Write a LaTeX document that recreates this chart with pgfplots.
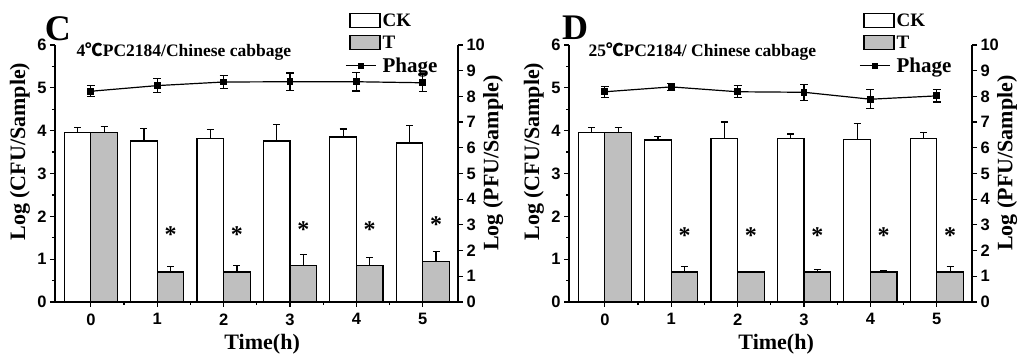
\documentclass[border=0pt]{standalone}
\usepackage{fontspec}
\setmainfont{Liberation Serif}
\newfontfamily\arialfont{Liberation Sans}
\newfontfamily\cjk{Noto Sans CJK SC}
\usepackage{pgfplots}
\pgfplotsset{compat=1.18}
\usepackage{pgfplotstable}

\pgfplotstableread{
x ck cke t te ph phe
0 3.95 0.13 3.95 0.14 8.20 0.21
1 3.76 0.29 0.70 0.13 8.42 0.28
2 3.81 0.21 0.70 0.15 8.56 0.26
3 3.76 0.39 0.86 0.24 8.57 0.34
4 3.85 0.19 0.86 0.17 8.57 0.36
5 3.71 0.41 0.94 0.24 8.53 0.34
}\dataC
\pgfplotstableread{
x ck cke t te ph phe
0 3.95 0.12 3.95 0.13 8.18 0.22
1 3.78 0.09 0.70 0.12 8.37 0.13
2 3.81 0.39 0.70 0.01 8.18 0.23
3 3.82 0.10 0.70 0.06 8.16 0.31
4 3.79 0.38 0.70 0.03 7.89 0.37
5 3.82 0.13 0.70 0.12 8.02 0.24
}\dataD
\pgfplotstableread{
x y
1.2 1.57
2.2 1.57
3.2 1.70
4.2 1.70
5.2 1.80
}\starC
\pgfplotstableread{
x y
1.2 1.56
2.2 1.56
3.2 1.56
4.2 1.56
5.2 1.56
}\starD

\pgfplotsset{
  panel/.style={scale only axis, width=403pt, height=257pt, xmin=-0.54, xmax=5.53,
    anchor=south west,
    axis line style={line width=1.2pt},
    every tick/.style={line width=1.2pt, black},
    tick align=outside, major tick length=5pt, minor tick length=3pt,
    ticklabel style={font=\arialfont\bfseries\fontsize{16.5}{16.5}\selectfont},
    /pgf/number format/assume math mode=true,
    label style={font=\bfseries\fontsize{22}{22}\selectfont},
    clip=false},
  leftax/.style={panel, axis x line*=bottom, axis y line*=left,
    ymin=0, ymax=6, ytick={0,...,6}, minor y tick num=1,
    xtick={0,...,5}, minor x tick num=1,
    xticklabel style={yshift=-3pt},
    xlabel={Time(h)}, ylabel={Log (CFU/Sample)},
    xlabel style={at={(axis description cs:0.514,-0.165)}, anchor=center},
    ylabel style={at={(axis description cs:-0.087,0.585)}, anchor=center}},
  rightax/.style={panel, axis y line*=right, axis x line=none,
    ymin=0, ymax=10, ytick={0,...,10},
    ylabel={Log (PFU/Sample)},
    ylabel style={at={(axis description cs:1.087,0.54)}, anchor=center},
    legend style={at={(0.72,1.13)}, anchor=north west, draw=none, fill=none,
      font=\bfseries\fontsize{19}{19}\selectfont, cells={anchor=west},
      row sep=4pt, inner sep=0pt}},
  ckbar/.style={ybar, bar width=0.4, bar shift=0, draw=black, fill=white, line width=1.2pt,
    error bars/.cd, y dir=plus, y explicit,
    error bar style={line width=1.2pt},
    error mark options={rotate=90, mark size=3.5pt, line width=1.2pt}},
  tbar/.style={ybar, bar width=0.4, bar shift=0, draw=black, fill=black!25, line width=1.2pt,
    error bars/.cd, y dir=plus, y explicit,
    error bar style={line width=1.2pt},
    error mark options={rotate=90, mark size=3.5pt, line width=1.2pt}},
  phline/.style={black, line width=1.2pt, mark=square*, mark size=2.8pt,
    error bars/.cd, y dir=both, y explicit,
    error bar style={line width=1.2pt},
    error mark options={rotate=90, mark size=4pt, line width=1.2pt}},
  stars/.style={only marks, mark=text, text mark={\bfseries\fontsize{24}{24}\selectfont *}},
}

\begin{document}
\begin{tikzpicture}
\useasboundingbox (0pt,0pt) rectangle (1024pt,363pt);
% ---------- Panel C ----------
\begin{axis}[leftax, at={(55pt,61pt)}]
\addplot[ckbar] table[x expr=\thisrow{x}-0.2, y=ck, y error=cke] {\dataC};
\addplot[tbar] table[x expr=\thisrow{x}+0.2, y=t, y error=te] {\dataC};
\addplot[stars] table[x=x, y=y] {\starC};
\node[font=\bfseries\fontsize{36}{36}\selectfont, anchor=center] at (rel axis cs:0.007,1.065) {C};
\node[font=\bfseries\fontsize{17.5}{17.5}\selectfont, anchor=west] at (rel axis cs:0.045,0.975) {4{\cjk ℃}PC2184/Chinese cabbage};
\end{axis}
\begin{axis}[rightax, at={(55pt,61pt)}]
\addlegendimage{legend image code/.code={\draw[black, line width=1.2pt, fill=white] (0pt,-7pt) rectangle (30pt,7pt);}}
\addlegendentry{CK}
\addlegendimage{legend image code/.code={\draw[black, line width=1.2pt, fill=black!25] (0pt,-7pt) rectangle (30pt,7pt);}}
\addlegendentry{T}
\addlegendimage{legend image code/.code={\draw[black, line width=1.2pt] (-4pt,0pt) -- (26pt,0pt); \fill[black] (8pt,-2.8pt) rectangle (13.6pt,2.8pt);}}
\addlegendentry{\fontsize{21}{21}\selectfont Phage}
\addplot[forget plot, phline] table[x=x, y=ph, y error=phe] {\dataC};
\end{axis}
% ---------- Panel D ----------
\begin{axis}[leftax, at={(569pt,61pt)}]
\addplot[ckbar] table[x expr=\thisrow{x}-0.2, y=ck, y error=cke] {\dataD};
\addplot[tbar] table[x expr=\thisrow{x}+0.2, y=t, y error=te] {\dataD};
\addplot[stars] table[x=x, y=y] {\starD};
\node[font=\bfseries\fontsize{36}{36}\selectfont, anchor=center] at (rel axis cs:0.015,1.068) {D};
\node[font=\bfseries\fontsize{17.5}{17.5}\selectfont, anchor=west] at (rel axis cs:0.04,0.975) {25{\cjk ℃}PC2184/ Chinese cabbage};
\end{axis}
\begin{axis}[rightax, at={(569pt,61pt)}]
\addlegendimage{legend image code/.code={\draw[black, line width=1.2pt, fill=white] (0pt,-7pt) rectangle (30pt,7pt);}}
\addlegendentry{CK}
\addlegendimage{legend image code/.code={\draw[black, line width=1.2pt, fill=black!25] (0pt,-7pt) rectangle (30pt,7pt);}}
\addlegendentry{T}
\addlegendimage{legend image code/.code={\draw[black, line width=1.2pt] (-4pt,0pt) -- (26pt,0pt); \fill[black] (8pt,-2.8pt) rectangle (13.6pt,2.8pt);}}
\addlegendentry{\fontsize{21}{21}\selectfont Phage}
\addplot[forget plot, phline] table[x=x, y=ph, y error=phe] {\dataD};
\end{axis}
\end{tikzpicture}
\end{document}
